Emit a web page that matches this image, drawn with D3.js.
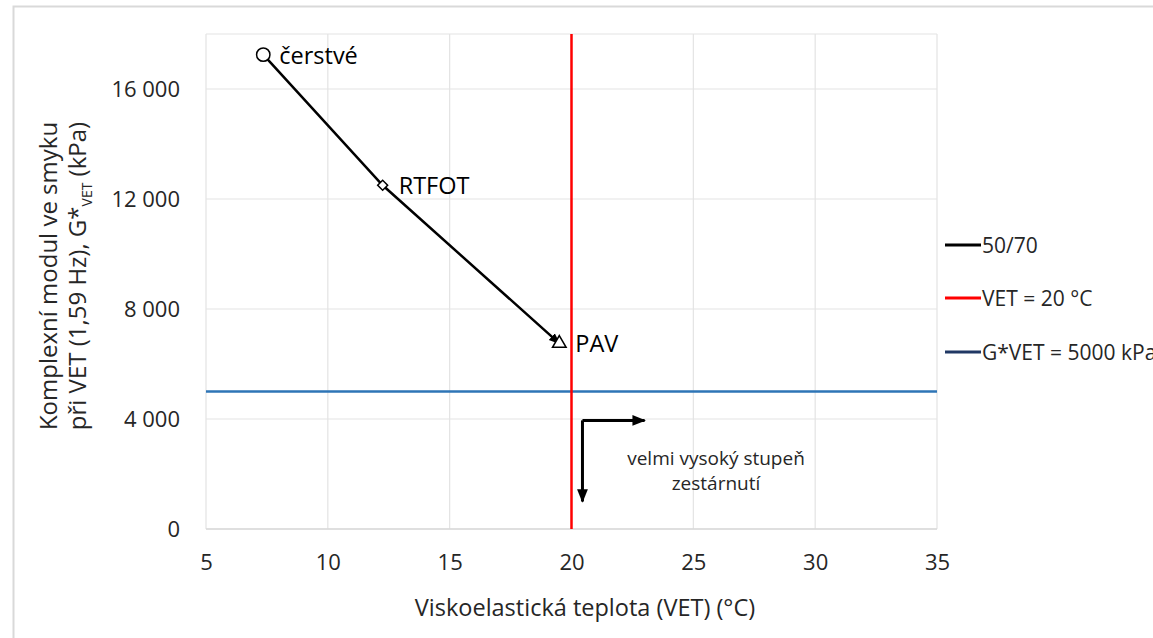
<!DOCTYPE html>
<html><head><meta charset="utf-8">
<script src="https://cdn.jsdelivr.net/npm/d3@7"></script>
<style>body{margin:0;background:#fff}svg{display:block}text{font-family:"Open Sans","Noto Sans",sans-serif}</style>
</head><body><svg id="c" width="1153" height="638"></svg>
<script>
const stages = ["čerstvé", "RTFOT", "PAV"];
const vet = [7.35, 12.25, 19.5];
const gvet = [17250, 12500, 6750];
const markers = ["circle", "diamond", "triangle"];
const xTicks = [5, 10, 15, 20, 25, 30, 35];
const yTicks = [0, 4000, 8000, 12000, 16000];
const vetLimit = 20;
const gLimit = 5000;
const legendLabels = ["50/70", "VET = 20 °C", "G*VET = 5000 kPa"];
const arrowCorner = [20.45, 3950];
const arrowRightEnd = 23.0;
const arrowDownEnd = 1000;
const noteLines = ["velmi vysoký stupeň", "zestárnutí"];

const svg = d3.select("#c");
const W = 1153, H = 638;
const L = 206, R = 937, T = 34, B = 529;
const x = d3.scaleLinear().domain([5, 35]).range([L, R]);
const y = d3.scaleLinear().domain([0, 18000]).range([B, T]);

// outer frame
svg.append("rect").attr("x", 13.5).attr("y", 6.5).attr("width", W).attr("height", H)
  .attr("fill", "none").attr("stroke", "#d9d9d9").attr("stroke-width", 2);

svg.append("defs").append("marker").attr("id", "ah").attr("viewBox", "0 0 10 10")
  .attr("refX", 9).attr("refY", 5).attr("markerWidth", 4.5).attr("markerHeight", 4.5)
  .attr("orient", "auto").attr("markerUnits", "strokeWidth")
  .append("path").attr("d", "M0,1 L10,5 L0,9 Z").attr("fill", "#000");

// gridlines
const g = svg.append("g");
g.selectAll(".vg").data(xTicks).join("line")
  .attr("x1", d => x(d)).attr("x2", d => x(d)).attr("y1", T).attr("y2", B)
  .attr("stroke", "#e3e3e3").attr("stroke-width", 1.2);
g.selectAll(".hg").data(yTicks.concat([18000])).join("line")
  .attr("x1", L).attr("x2", R).attr("y1", d => y(d)).attr("y2", d => y(d))
  .attr("stroke", "#e3e3e3").attr("stroke-width", 1.2);
g.append("line").attr("x1", L).attr("x2", R).attr("y1", B).attr("y2", B)
  .attr("stroke", "#d9d9d9").attr("stroke-width", 1.5);

// axes
const xa = svg.append("g").attr("transform", `translate(0,${B})`)
  .call(d3.axisBottom(x).tickValues(xTicks).tickSize(0).tickPadding(25).tickFormat(d3.format("d")));
xa.select(".domain").remove();
xa.selectAll("text").attr("fill", "#262626").style("font-size", "22px");
const fmt = d => d3.format(",")(d).replace(/,/g, " ");
const ya = svg.append("g").attr("transform", `translate(${L},0)`)
  .call(d3.axisLeft(y).tickValues(yTicks).tickSize(0).tickPadding(26).tickFormat(fmt));
ya.select(".domain").remove();
ya.selectAll("text").attr("fill", "#262626").style("font-size", "22px");

// axis titles
svg.append("text").attr("x", 585).attr("y", 616).attr("text-anchor", "middle")
  .attr("fill", "#262626").style("font-size", "23.5px").text("Viskoelastická teplota (VET) (°C)");
const yt = svg.append("g").attr("transform", "translate(0,276) rotate(-90)");
yt.append("text").attr("x", 0).attr("y", 57).attr("text-anchor", "middle").attr("fill", "#262626")
  .style("font-size", "24px").text("Komplexní modul ve smyku");
const t2 = yt.append("text").attr("x", 0).attr("y", 86).attr("text-anchor", "middle").attr("fill", "#262626")
  .style("font-size", "24px");
t2.append("tspan").text("při VET (1,59 Hz), G*");
t2.append("tspan").attr("dy", 6).style("font-size", "14px").text("VET");
t2.append("tspan").attr("dy", -6).text(" (kPa)");

// limit lines
svg.append("line").attr("x1", L).attr("x2", R).attr("y1", y(gLimit)).attr("y2", y(gLimit))
  .attr("stroke", "#2E75B6").attr("stroke-width", 2.5);
svg.append("line").attr("x1", x(vetLimit)).attr("x2", x(vetLimit)).attr("y1", T).attr("y2", B)
  .attr("stroke", "#FF0000").attr("stroke-width", 2.5);

// series line
const pts = vet.map((v, i) => [x(v), y(gvet[i])]);
svg.append("path").attr("d", d3.line()(pts)).attr("fill", "none")
  .attr("stroke", "#000").attr("stroke-width", 2.5).attr("marker-end", "url(#ah)");

// markers
const sym = {circle: d3.symbolCircle, diamond: d3.symbolSquare, triangle: d3.symbolTriangle};
pts.forEach((p, i) => {
  const s = d3.symbol().type(sym[markers[i]]).size(markers[i] === "circle" ? 140 : (markers[i] === "diamond" ? 50 : 80));
  svg.append("path").attr("d", s()).attr("fill", "#fff").attr("stroke", "#000").attr("stroke-width", 1.5)
    .attr("transform", `translate(${p[0]},${p[1]})` + (markers[i] === "diamond" ? " rotate(45)" : ""));
  svg.append("text").attr("x", p[0] + 16).attr("y", p[1] + 9).attr("fill", "#000")
    .style("font-size", "23.5px").text(stages[i]);
});

// annotation arrows
const cx = x(arrowCorner[0]), cy = y(arrowCorner[1]);
svg.append("path").attr("d", `M${cx},${cy} L${x(arrowRightEnd)},${cy}`).attr("stroke", "#000")
  .attr("stroke-width", 3).attr("fill", "none").attr("marker-end", "url(#ah)");
svg.append("path").attr("d", `M${cx},${cy} L${cx},${y(arrowDownEnd)}`).attr("stroke", "#000")
  .attr("stroke-width", 3).attr("fill", "none").attr("marker-end", "url(#ah)");
noteLines.forEach((t, i) => svg.append("text").attr("x", 716).attr("y", 465 + i * 25)
  .attr("text-anchor", "middle").attr("fill", "#262626").style("font-size", "19px").text(t));

// legend
const legColors = ["#000000", "#FF0000", "#203864"];
const legY = [245, 298, 352];
legendLabels.forEach((l, i) => {
  svg.append("line").attr("x1", 945).attr("x2", 981).attr("y1", legY[i]).attr("y2", legY[i])
    .attr("stroke", legColors[i]).attr("stroke-width", 3);
  svg.append("text").attr("x", 982).attr("y", legY[i] + 8).attr("fill", "#262626")
    .style("font-size", "21px").text(l);
});
</script></body></html>
